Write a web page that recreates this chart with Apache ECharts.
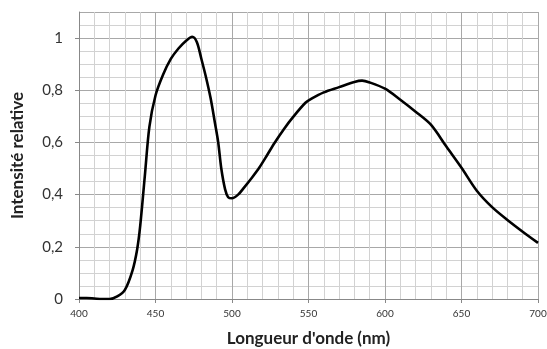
<!DOCTYPE html>
<html>
<head>
<meta charset="utf-8">
<script src="https://cdn.jsdelivr.net/npm/echarts@6/dist/echarts.min.js"></script>
<style>
  html, body { margin: 0; padding: 0; background: #fff; }
  #chart { width: 547px; height: 349px; }
</style>
</head>
<body>
<div id="chart"></div>
<script>
// longueur d'onde (nm) et intensité relative
const wavelengths = [400, 405, 410, 415, 420, 425, 430, 435, 438, 440, 443, 446, 450, 455, 460, 465, 470, 474, 477, 480, 483, 486, 489, 491, 493, 495.5, 497.5, 500, 504, 508, 513, 518, 523, 528, 534, 540, 548, 552, 560, 570, 580, 585, 590, 600, 610, 620, 630, 640, 650, 660, 670, 680, 690, 700]
const intensity = [0.004, 0.004, 0.002, 0.0, 0.0, 0.01, 0.035, 0.11, 0.19, 0.28, 0.47, 0.66, 0.78, 0.86, 0.92, 0.96, 0.99, 1.005, 0.985, 0.92, 0.85, 0.77, 0.67, 0.6, 0.5, 0.42, 0.39, 0.386, 0.4, 0.428, 0.465, 0.505, 0.552, 0.6, 0.652, 0.698, 0.752, 0.768, 0.792, 0.812, 0.832, 0.837, 0.83, 0.806, 0.764, 0.718, 0.668, 0.585, 0.503, 0.415, 0.352, 0.303, 0.258, 0.215]

const yTicks = [0, 0.2, 0.4, 0.6, 0.8, 1]
const xTicks = [400, 450, 500, 550, 600, 650, 700]

const chart = echarts.init(document.getElementById('chart'), null, { renderer: 'canvas' })

const font = 'Lato, "Open Sans", sans-serif'

chart.setOption({
  animation: false,
  backgroundColor: '#fff',
  grid: { left: 79, right: 9, top: 12, bottom: 50, outerBoundsMode: 'none' },
  xAxis: {
    type: 'value',
    min: 400,
    max: 700,
    interval: 50,
    name: "Longueur d'onde (nm)",
    nameLocation: 'middle',
    nameGap: 31,
    nameTextStyle: { fontFamily: font, fontWeight: 'bold', fontSize: 17, color: '#222' },
    axisLine: { show: true, lineStyle: { color: '#888', width: 1 } },
    axisTick: { show: true, length: 4, lineStyle: { color: '#888' } },
    axisLabel: {
      fontFamily: font, fontSize: 10, color: '#333', margin: 10,
      formatter: v => (xTicks.includes(v) ? String(v) : '')
    },
    splitLine: { show: true, lineStyle: { color: '#a8a8a8', width: 1 } },
    minorTick: { show: false, splitNumber: 5 },
    minorSplitLine: { show: true, lineStyle: { color: '#d2d2d2', width: 1 } }
  },
  yAxis: {
    type: 'value',
    min: 0,
    max: 1.1,
    interval: 0.2,
    name: 'Intensité relative',
    nameLocation: 'middle',
    nameGap: 53,
    nameTextStyle: { fontFamily: font, fontWeight: 'bold', fontSize: 17, color: '#222' },
    axisLine: { show: true, lineStyle: { color: '#888', width: 1 } },
    axisTick: { show: true, length: 4, lineStyle: { color: '#888' } },
    axisLabel: {
      fontFamily: font, fontSize: 15, color: '#333', margin: 16,
      showMaxLabel: false,
      formatter: v => {
        const t = yTicks.find(k => Math.abs(k - v) < 1e-6)
        return t === undefined ? '' : String(t).replace('.', ',')
      }
    },
    splitLine: { show: true, lineStyle: { color: '#a8a8a8', width: 1 } },
    minorTick: { show: false, splitNumber: 4 },
    minorSplitLine: { show: true, lineStyle: { color: '#d2d2d2', width: 1 } }
  },
  series: [
    {
      type: 'line',
      data: wavelengths.map((w, i) => [w, intensity[i]]),
      smooth: 0.3,
      showSymbol: false,
      lineStyle: { color: '#000', width: 2.6 },
      clip: true
    }
  ]
})
</script>
</body>
</html>
